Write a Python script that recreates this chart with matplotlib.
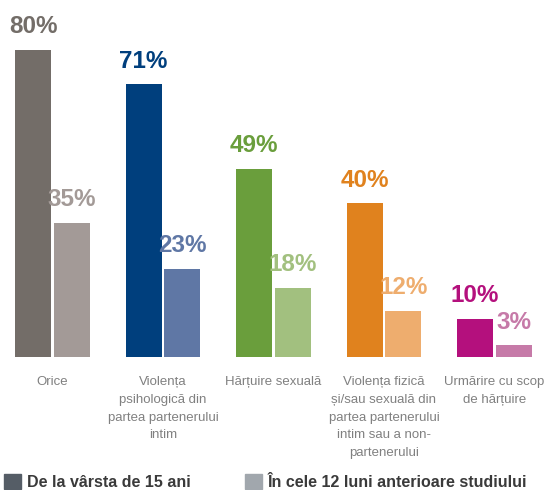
import numpy as np
import matplotlib.pyplot as plt
from matplotlib.patches import Patch

# date
kategorii = [
    "Orice",
    "Violența\npsihologică din\npartea partenerului\nintim",
    "Hărțuire sexuală",
    "Violența fizică\nși/sau sexuală din\npartea partenerului\nintim sau a non-\npartenerului",
    "Urmărire cu scop\nde hărțuire",
]
de_la_15_ani = [80, 71, 49, 40, 10]
ultimele_12_luni = [35, 23, 18, 12, 3]
etichete_legenda = ["De la vârsta de 15 ani", "În cele 12 luni anterioare studiului"]

culori_inchise = ["#736d68", "#003f7d", "#6a9e3c", "#e0821e", "#b4107d"]
culori_deschise = ["#a39a97", "#5f77a5", "#a2c07f", "#eead6e", "#c67aa8"]

FONT = ["Liberation Sans", "DejaVu Sans"]

fig = plt.figure(figsize=(5.45, 4.9), dpi=100)
ax = fig.add_axes([0, 133 / 490, 1, 357 / 490])
ax.set_xlim(-52.5 / 110.5, (545 - 52.5) / 110.5)
ax.set_ylim(0, 357 / 3.84)
ax.axis("off")

x = np.arange(len(kategorii))
latime = 0.326
dx = 0.176

ax.bar(x - dx, de_la_15_ani, width=latime, color=culori_inchise)
ax.bar(x + dx, ultimele_12_luni, width=latime, color=culori_deschise)

for i in range(len(kategorii)):
    for xp, v, c in [(x[i] - dx, de_la_15_ani[i], culori_inchise[i]),
                     (x[i] + dx, ultimele_12_luni[i], culori_deschise[i])]:
        ax.annotate(f"{v}%", (xp, v), xytext=(0, 12), textcoords="offset points",
                    ha="center", va="baseline", fontsize=17.5, fontweight="bold",
                    color=c, family=FONT, annotation_clip=False)
    ax.annotate(kategorii[i], (x[i], 0), xytext=(0, -14), textcoords="offset points",
                ha="center", va="top", fontsize=9.5, color="#808080",
                family=FONT, linespacing=1.62, annotation_clip=False)

# legenda jos
handles = [Patch(color="#555d66"), Patch(color="#a1a7ad")]
fig.legend(handles, etichete_legenda, loc="upper left",
           bbox_to_anchor=(4 / 545, 16 / 490), ncol=2, frameon=False,
           prop=dict(family=FONT, weight="bold", size=11.5), labelcolor="#3a3a3a",
           handlelength=1.05, handleheight=1.05, handletextpad=0.38,
           columnspacing=3.4, borderpad=0, borderaxespad=0)

fig.savefig("out.png", dpi=100)
